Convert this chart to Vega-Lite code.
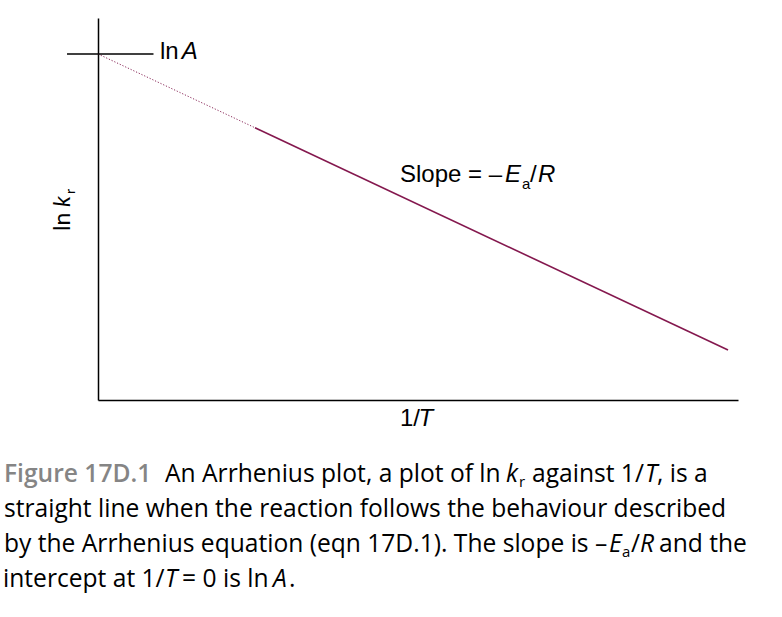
{
  "$schema": "https://vega.github.io/schema/vega-lite/v6.json",
  "autosize": "none",
  "width": 640,
  "height": 382,
  "padding": {"left": 98, "top": 18, "right": 44, "bottom": 217},
  "background": "white",
  "config": {"view": {"stroke": null}},
  "datasets": {
    "lines": [
      {"x": 0, "y": 9.058, "seg": "dotted"},
      {"x": 2.453, "y": 7.127, "seg": "dotted"},
      {"x": 2.453, "y": 7.127, "seg": "solid"},
      {"x": 9.844, "y": 1.309, "seg": "solid"}
    ],
    "tick": [{"x": -0.484, "x2": 0.867, "y": 9.058}],
    "labels": [
      {"x": 0.969, "y": 8.919, "t": "ln", "role": "p"},
      {"x": 1.308, "y": 8.919, "t": "A", "role": "pi"},
      {"x": 4.719, "y": 5.715, "t": "Slope = –", "role": "p"},
      {"x": 6.359, "y": 5.715, "t": "E", "role": "pi"},
      {"x": 6.625, "y": 5.515, "t": "a", "role": "ps"},
      {"x": 6.75, "y": 5.715, "t": "/", "role": "p"},
      {"x": 6.875, "y": 5.715, "t": "R", "role": "pi"},
      {"x": 4.719, "y": -0.681, "t": "1/", "role": "p"},
      {"x": 5.008, "y": -0.681, "t": "T", "role": "pi"},
      {"x": -0.4375, "y": 4.424, "t": "ln", "role": "v"},
      {"x": -0.4375, "y": 5.052, "t": "k", "role": "vi"},
      {"x": -0.359, "y": 5.393, "t": "r", "role": "vs"},
      {"x": -1.469, "y": -2.147, "t": "Figure 17D.1", "role": "cg"},
      {"x": 1.047, "y": -2.147, "t": "An Arrhenius plot, a plot of ln", "role": "c"},
      {"x": 6.375, "y": -2.147, "t": "k", "role": "ci"},
      {"x": 6.578, "y": -2.277, "t": "r", "role": "cs"},
      {"x": 6.781, "y": -2.147, "t": "against 1/", "role": "c"},
      {"x": 8.547, "y": -2.147, "t": "T", "role": "ci"},
      {"x": 8.734, "y": -2.147, "t": ", is a", "role": "c"},
      {"x": -1.469, "y": -3.063, "t": "straight line when the reaction follows the behaviour described", "role": "c"},
      {"x": -1.469, "y": -3.979, "t": "by the Arrhenius equation (eqn 17D.1). The slope is –", "role": "c"},
      {"x": 7.984, "y": -3.979, "t": "E", "role": "ci"},
      {"x": 8.188, "y": -4.109, "t": "a", "role": "cs"},
      {"x": 8.328, "y": -3.979, "t": "/", "role": "c"},
      {"x": 8.469, "y": -3.979, "t": "R", "role": "ci"},
      {"x": 8.766, "y": -3.979, "t": "and the", "role": "c"},
      {"x": -1.484, "y": -4.895, "t": "intercept at 1/", "role": "c"},
      {"x": 1.047, "y": -4.895, "t": "T", "role": "ci"},
      {"x": 1.313, "y": -4.895, "t": "= 0 is ln", "role": "c"},
      {"x": 2.734, "y": -4.895, "t": "A", "role": "ci"},
      {"x": 2.984, "y": -4.895, "t": ".", "role": "c"}
    ]
  },
  "encoding": {
    "x": {"field": "x", "type": "quantitative", "scale": {"domain": [0, 10], "nice": false, "zero": false},
          "axis": {"domain": true, "domainColor": "#000000", "domainWidth": 1.5, "ticks": false, "labels": false, "grid": false, "title": null}},
    "y": {"field": "y", "type": "quantitative", "scale": {"domain": [0, 10], "nice": false, "zero": false},
          "axis": {"domain": true, "domainColor": "#000000", "domainWidth": 1.5, "ticks": false, "labels": false, "grid": false, "title": null}}
  },
  "layer": [
    {"data": {"name": "lines"}, "transform": [{"filter": "datum.seg === 'dotted'"}],
     "mark": {"type": "line", "color": "#8a2a5a", "strokeWidth": 1, "strokeDash": [1.2, 1.8]}},
    {"data": {"name": "lines"}, "transform": [{"filter": "datum.seg === 'solid'"}],
     "mark": {"type": "line", "color": "#84184e", "strokeWidth": 1.6}},
    {"data": {"name": "tick"}, "mark": {"type": "rule", "color": "#000000", "strokeWidth": 1.5},
     "encoding": {"x2": {"field": "x2"}}},
    {"data": {"name": "labels"}, "transform": [{"filter": "datum.role === 'p'"}],
     "mark": {"type": "text", "font": "Liberation Sans", "fontSize": 24, "align": "left", "baseline": "alphabetic", "color": "#000000"},
     "encoding": {"text": {"field": "t"}}},
    {"data": {"name": "labels"}, "transform": [{"filter": "datum.role === 'pi'"}],
     "mark": {"type": "text", "font": "Liberation Sans", "fontSize": 24, "fontStyle": "italic", "align": "left", "baseline": "alphabetic", "color": "#000000"},
     "encoding": {"text": {"field": "t"}}},
    {"data": {"name": "labels"}, "transform": [{"filter": "datum.role === 'ps'"}],
     "mark": {"type": "text", "font": "Liberation Sans", "fontSize": 15, "align": "left", "baseline": "alphabetic", "color": "#000000"},
     "encoding": {"text": {"field": "t"}}},
    {"data": {"name": "labels"}, "transform": [{"filter": "datum.role === 'v'"}],
     "mark": {"type": "text", "font": "Lato", "fontSize": 23, "angle": 270, "align": "left", "baseline": "alphabetic", "color": "#000000"},
     "encoding": {"text": {"field": "t"}}},
    {"data": {"name": "labels"}, "transform": [{"filter": "datum.role === 'vi'"}],
     "mark": {"type": "text", "font": "Lato", "fontSize": 23, "fontStyle": "italic", "angle": 270, "align": "left", "baseline": "alphabetic", "color": "#000000"},
     "encoding": {"text": {"field": "t"}}},
    {"data": {"name": "labels"}, "transform": [{"filter": "datum.role === 'vs'"}],
     "mark": {"type": "text", "font": "Lato", "fontSize": 14, "angle": 270, "align": "left", "baseline": "alphabetic", "color": "#000000"},
     "encoding": {"text": {"field": "t"}}},
    {"data": {"name": "labels"}, "transform": [{"filter": "datum.role === 'cg'"}],
     "mark": {"type": "text", "font": "Open Sans", "fontSize": 24.6, "fontWeight": 600, "align": "left", "baseline": "alphabetic", "color": "#858585"},
     "encoding": {"text": {"field": "t"}}},
    {"data": {"name": "labels"}, "transform": [{"filter": "datum.role === 'c'"}],
     "mark": {"type": "text", "font": "Open Sans", "fontSize": 24.6, "align": "left", "baseline": "alphabetic", "color": "#000000"},
     "encoding": {"text": {"field": "t"}}},
    {"data": {"name": "labels"}, "transform": [{"filter": "datum.role === 'ci'"}],
     "mark": {"type": "text", "font": "Open Sans", "fontSize": 24.6, "fontStyle": "italic", "align": "left", "baseline": "alphabetic", "color": "#000000"},
     "encoding": {"text": {"field": "t"}}},
    {"data": {"name": "labels"}, "transform": [{"filter": "datum.role === 'cs'"}],
     "mark": {"type": "text", "font": "Open Sans", "fontSize": 15, "align": "left", "baseline": "alphabetic", "color": "#000000"},
     "encoding": {"text": {"field": "t"}}}
  ]
}
